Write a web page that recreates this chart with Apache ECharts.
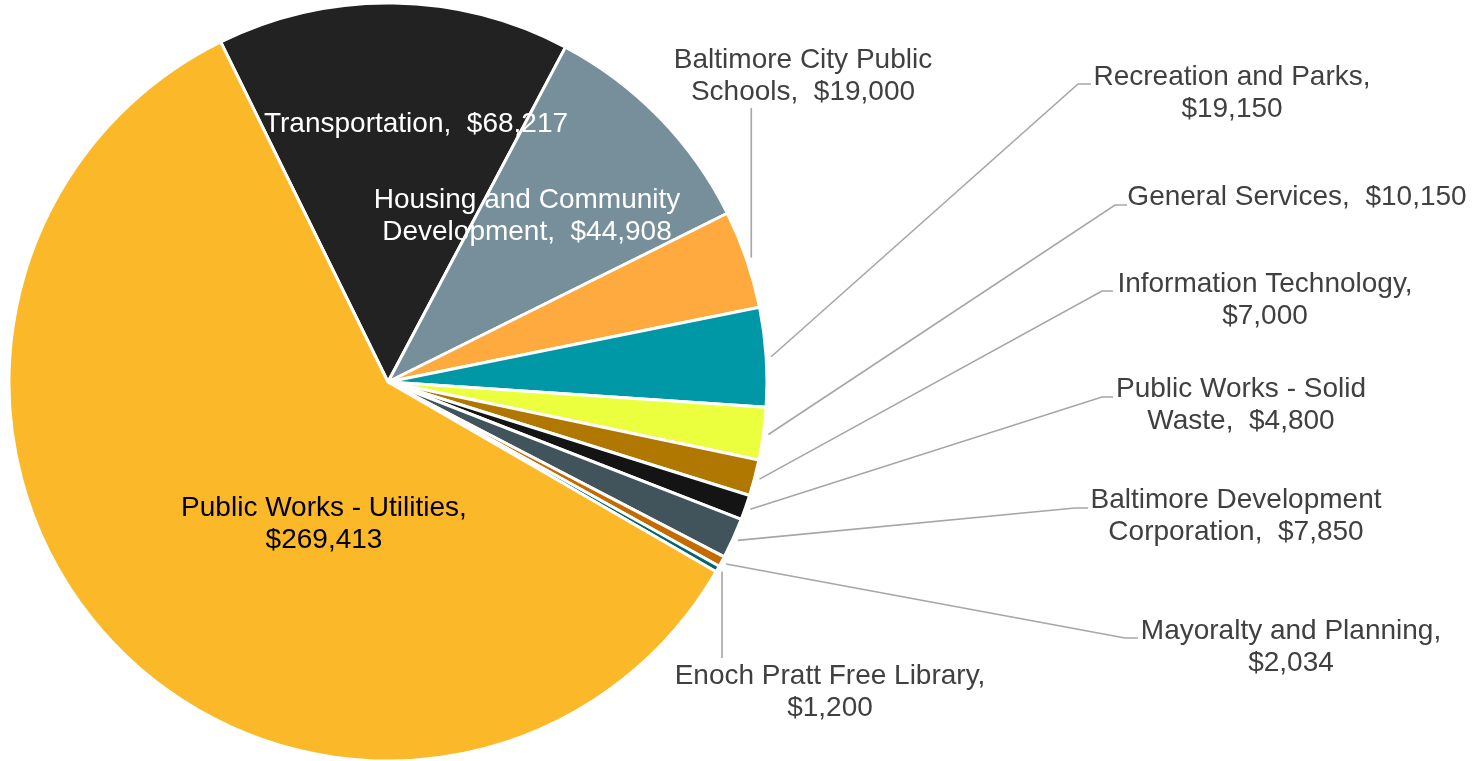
<!DOCTYPE html>
<html>
<head>
<meta charset="utf-8">
<script src="https://cdn.jsdelivr.net/npm/echarts@6/dist/echarts.min.js"></script>
<style>
html,body{margin:0;padding:0;background:#ffffff;}
#chart{width:1483px;height:761px;}
</style>
</head>
<body>
<div id="chart"></div>
<script>
// ---- data ----
const categories = [
  'Transportation',
  'Housing and Community Development',
  'Baltimore City Public Schools',
  'Recreation and Parks',
  'General Services',
  'Information Technology',
  'Public Works - Solid Waste',
  'Baltimore Development Corporation',
  'Mayoralty and Planning',
  'Enoch Pratt Free Library',
  'Public Works - Utilities'
];
const values = [68217, 44908, 19000, 19150, 10150, 7000, 4800, 7850, 2034, 1200, 269413];
// first line of each wrapped label ('' = single line)
const firstLines = [
  '',
  'Housing and Community',
  'Baltimore City Public',
  'Recreation and Parks,',
  '',
  'Information Technology,',
  'Public Works - Solid',
  'Baltimore Development',
  'Mayoralty and Planning,',
  'Enoch Pratt Free Library,',
  'Public Works - Utilities,'
];

// ---- styles ----
const colors = ['#222222', '#778F9B', '#FFAA3F', '#0097A7', '#ECFF3F', '#B07800', '#141414', '#41545C', '#C46A00', '#00666F', '#FBB829'];
const textColors = ['#ffffff', '#ffffff', '#404040', '#404040', '#404040', '#404040', '#404040', '#404040', '#404040', '#404040', '#000000'];

// ---- label placement (layout only) ----
const labelSpots = [
  { inside: true, at: [416, 124] },
  { inside: true, at: [527, 216] },
  { at: [803, 76], to: 108 },
  { at: [1232, 93], elbow: [1078, 84], end: [1091, 84] },
  { at: [1297, 197], elbow: [1115, 205], end: [1127, 205] },
  { at: [1265, 300], elbow: [1102, 291], end: [1113, 291] },
  { at: [1241, 405], elbow: [1102, 397], end: [1113, 397] },
  { at: [1236, 516], elbow: [1075, 508], end: [1088, 508] },
  { at: [1291, 647], elbow: [1125, 638], end: [1138, 638] },
  { at: [830, 692], to: 658 },
  { inside: true, at: [324, 524] }
];

function fmtMoney(v) { return '$' + v.toLocaleString('en-US'); }
function labelText(i) {
  const full = categories[i] + ',  ' + fmtMoney(values[i]);
  const f = firstLines[i];
  if (!f) return full;
  return f + '\n' + full.slice(f.length).trim();
}

const seriesData = categories.map(function (name, i) {
  const spot = labelSpots[i];
  return {
    name: name,
    value: values[i],
    itemStyle: { color: colors[i] },
    label: { position: spot.inside ? 'inside' : 'outside', color: textColors[i] },
    labelLine: { show: !spot.inside }
  };
});

const chart = echarts.init(document.getElementById('chart'), null, { renderer: 'canvas' });
chart.setOption({
  backgroundColor: '#ffffff',
  animation: false,
  series: [{
    type: 'pie',
    center: [388, 382],
    radius: 379,
    startAngle: 116.2,
    clockwise: true,
    avoidLabelOverlap: false,
    itemStyle: { borderColor: '#ffffff', borderWidth: 3 },
    emphasis: { disabled: true },
    label: {
      show: true,
      fontFamily: 'Liberation Sans, Arial, sans-serif',
      fontSize: 28,
      lineHeight: 32,
      align: 'center',
      formatter: function (p) { return labelText(p.dataIndex); }
    },
    labelLine: {
      show: true,
      length: 15,
      length2: 10,
      smooth: false,
      lineStyle: { color: '#A6A6A6', width: 1.6 }
    },
    labelLayout: function (p) {
      const s = labelSpots[p.dataIndex];
      const out = { x: s.at[0], y: s.at[1], align: 'center', verticalAlign: 'middle' };
      if (s.inside || !p.labelLinePoints) return out;
      const a = p.labelLinePoints[0], b = p.labelLinePoints[1];
      const dx = b[0] - a[0], dy = b[1] - a[1];
      const len = Math.hypot(dx, dy) || 1;
      const st = [a[0] + dx / len * 5, a[1] + dy / len * 5];
      if (s.to != null) {
        out.labelLinePoints = [st, [st[0], (st[1] + s.to) / 2], [st[0], s.to]];
      } else {
        out.labelLinePoints = [st, s.elbow, s.end];
      }
      return out;
    },
    data: seriesData
  }]
});
</script>
</body>
</html>
